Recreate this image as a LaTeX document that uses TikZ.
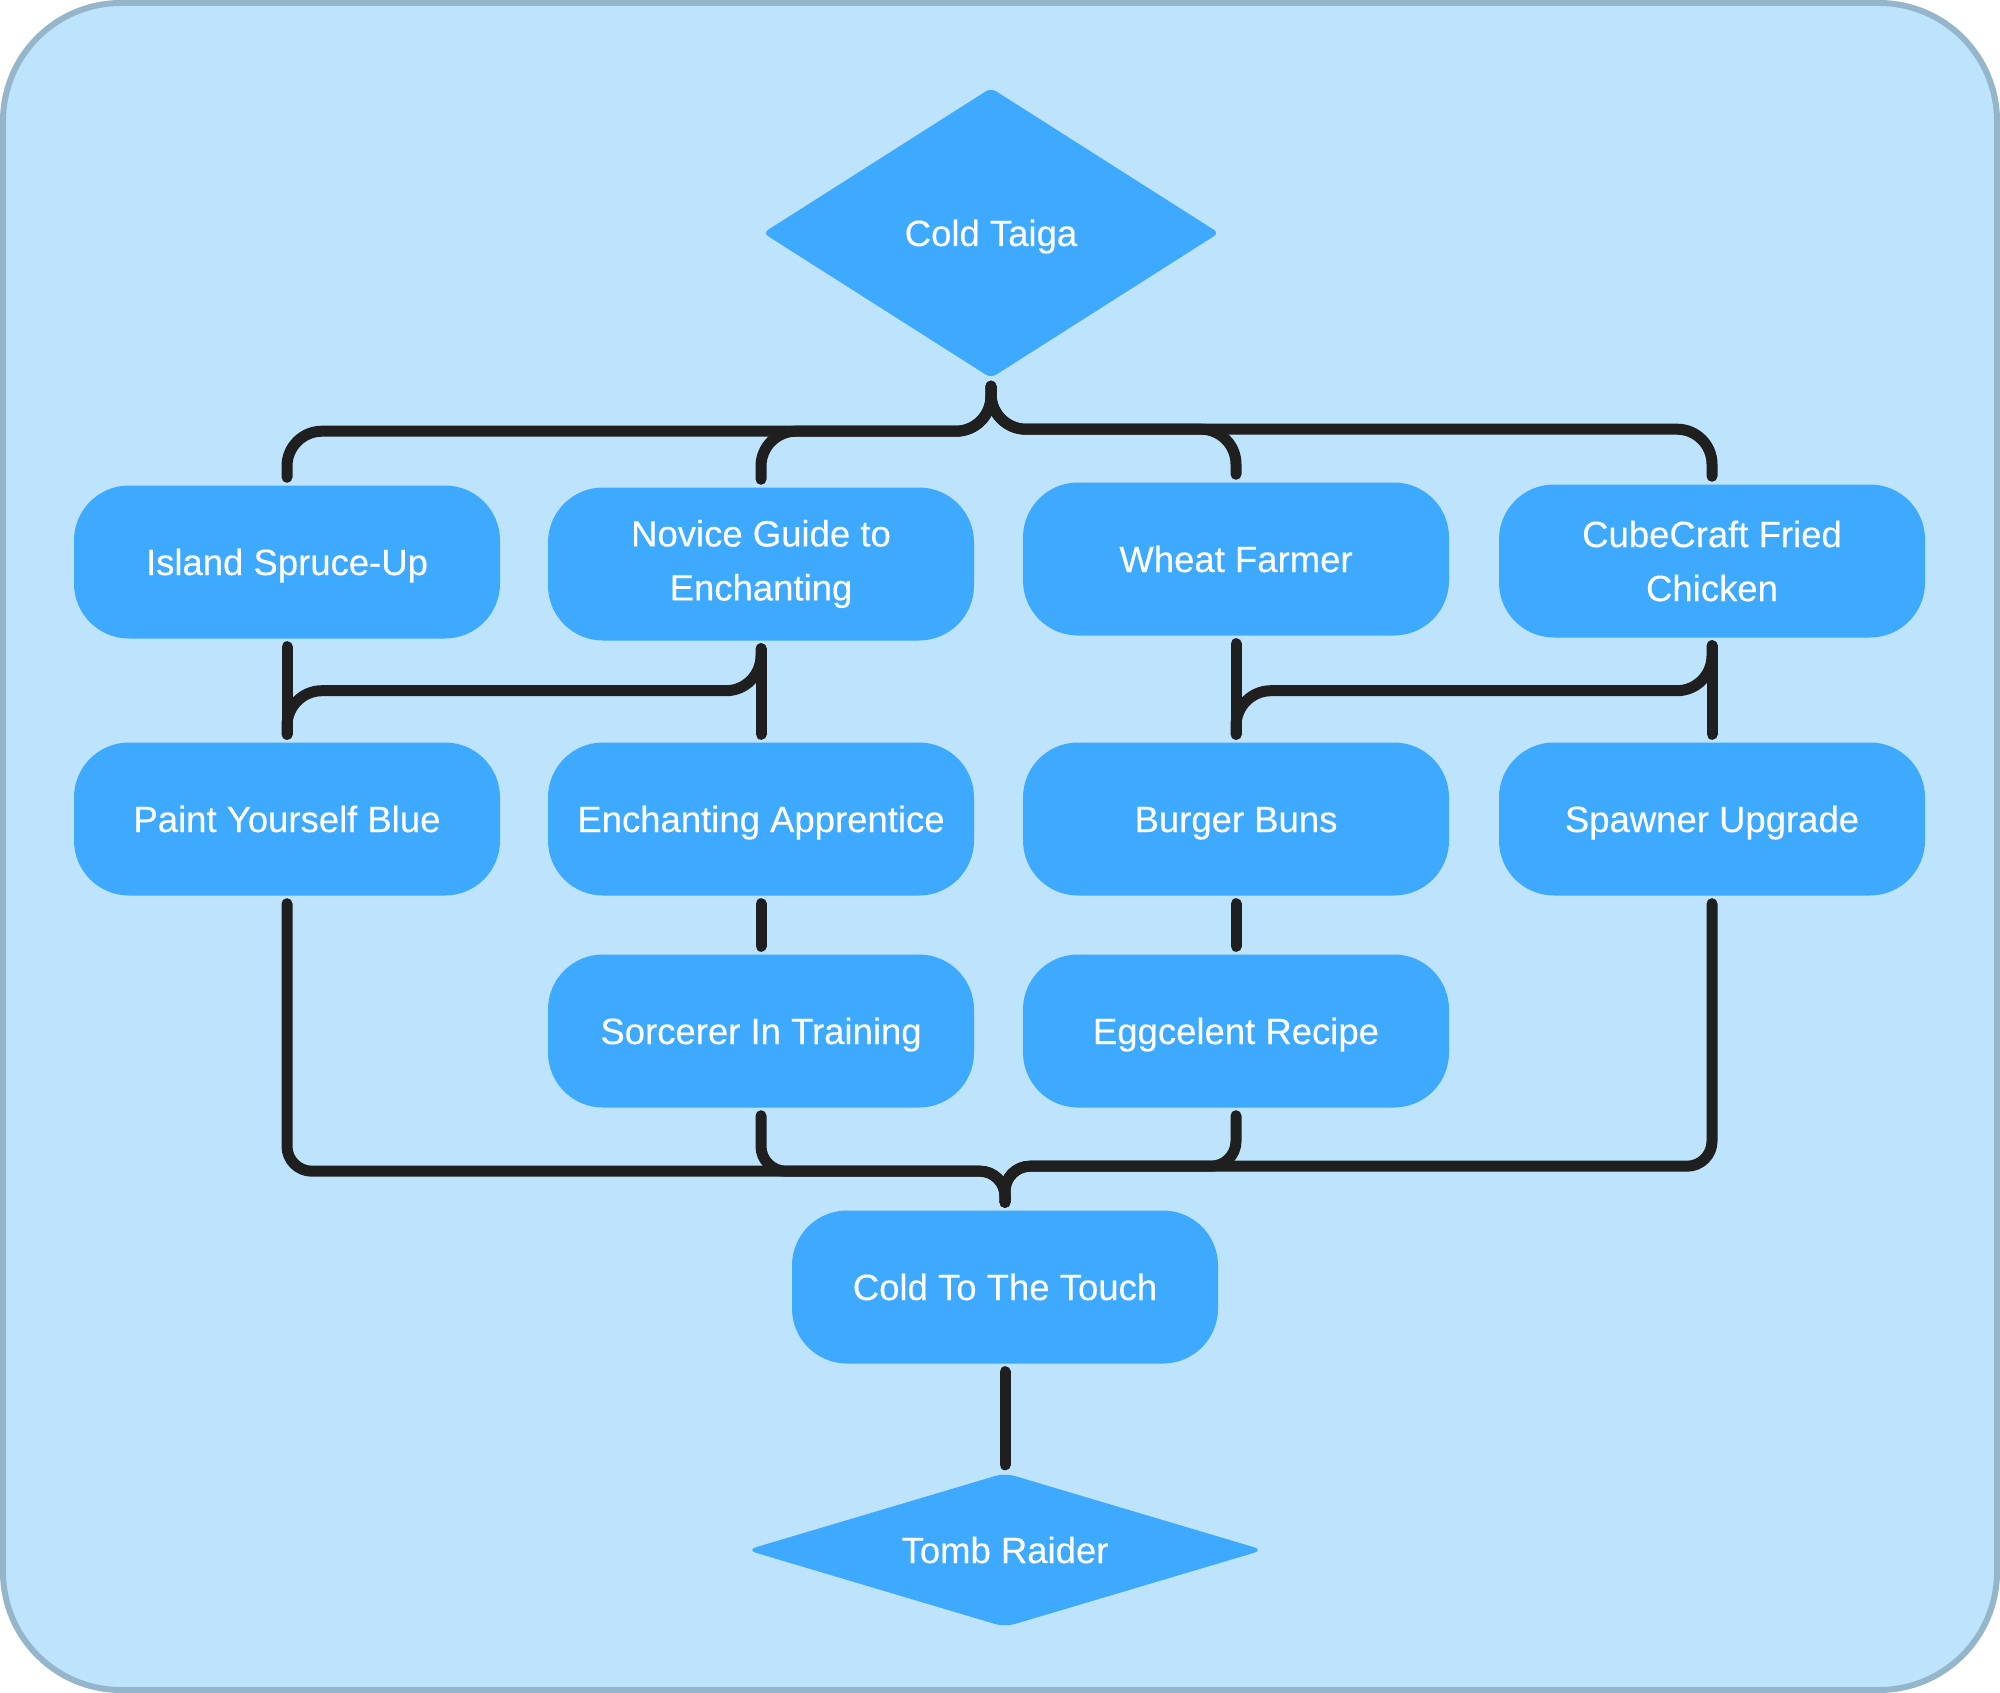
\documentclass[tikz,border=0pt]{standalone}
\usepackage{fontspec}
\setmainfont{Liberation Sans}
\newfontfamily\nodefont{Liberation Sans}[FakeBold=0.3]
\usetikzlibrary{shapes.geometric}
\definecolor{bgfill}{HTML}{BEE3FD}
\definecolor{bgline}{HTML}{95B5CA}
\definecolor{nodefill}{HTML}{3DA9FF}
\definecolor{linecol}{HTML}{1F1F1F}
\begin{document}
\begin{tikzpicture}[x=1pt,y=-1pt,
  box/.style={rectangle, rounded corners=55pt, fill=nodefill, minimum width=426pt,
    minimum height=153pt, inner sep=0pt, text=white,
    font=\nodefont\fontsize{36.5pt}{54pt}\selectfont, align=center},
  oneline/.style={box, text height=26pt, text depth=0pt},
  dia/.style={diamond, fill=nodefill, inner sep=0pt, text=white,
    font=\nodefont\fontsize{36.5pt}{54pt}\selectfont, text height=26pt, text depth=0pt},
  conn/.style={draw=linecol, line width=11pt, line cap=round, rounded corners=35pt,
    shorten <=8pt, shorten >=8pt},
  lowconn/.style={conn, rounded corners=25pt}]
\useasboundingbox (0,0) rectangle (2000,1693);
\draw[fill=bgfill, draw=bgline, line width=6pt, rounded corners=118pt] (3,3) rectangle (1997,1690);

\node[dia, minimum width=456pt, minimum height=290pt, aspect=1.572, rounded corners=6pt] (ct) at (991,233) {Cold Taiga};
\node[oneline] (isl) at (287,562) {Island Spruce-Up};
\node[box] (nov) at (761,564) {Novice Guide to\\Enchanting};
\node[oneline] (wht) at (1236,559) {Wheat Farmer};
\node[box] (cube) at (1712,561) {CubeCraft Fried\\Chicken};
\node[oneline] (paint) at (287,819) {Paint Yourself Blue};
\node[oneline] (ench) at (761,819) {Enchanting Apprentice};
\node[oneline] (bun) at (1236,819) {Burger Buns};
\node[oneline] (spawn) at (1712,819) {Spawner Upgrade};
\node[oneline] (sorc) at (761,1031) {Sorcerer In Training};
\node[oneline] (egg) at (1236,1031) {Eggcelent Recipe};
\node[oneline] (cold) at (1005,1287) {Cold To The Touch};
\node[dia, minimum width=517pt, minimum height=154pt, aspect=3.36, rounded corners=10pt] (tomb) at (1005,1550) {Tomb Raider};

\draw[conn] (ct.south) -- ++(0,53) -| (isl.north);
\draw[conn] (ct.south) -- ++(0,53) -| (nov.north);
\draw[conn] (ct.south) -- ++(0,51) -| (wht.north);
\draw[conn] (ct.south) -- ++(0,51) -| (cube.north);

\draw[conn] (isl.south) -- (paint.north);
\draw[conn] (nov.south) -- ++(0,50) -| (paint.north);
\draw[conn] (nov.south) -- (ench.north);
\draw[conn] (wht.south) -- (bun.north);
\draw[conn] (cube.south) -- ++(0,53) -| (bun.north);
\draw[conn] (cube.south) -- (spawn.north);

\draw[conn] (ench.south) -- (sorc.north);
\draw[conn] (bun.south) -- (egg.north);

\draw[lowconn] (paint.south) -- ++(0,275.5) -| (cold.north);
\draw[lowconn] (sorc.south) -- ++(0,63.5) -| (cold.north);
\draw[lowconn] (egg.south) -- ++(0,58.5) -| (cold.north);
\draw[lowconn] (spawn.south) -- ++(0,270.5) -| (cold.north);

\draw[conn] (cold.south) -- (tomb.north);
\end{tikzpicture}
\end{document}
